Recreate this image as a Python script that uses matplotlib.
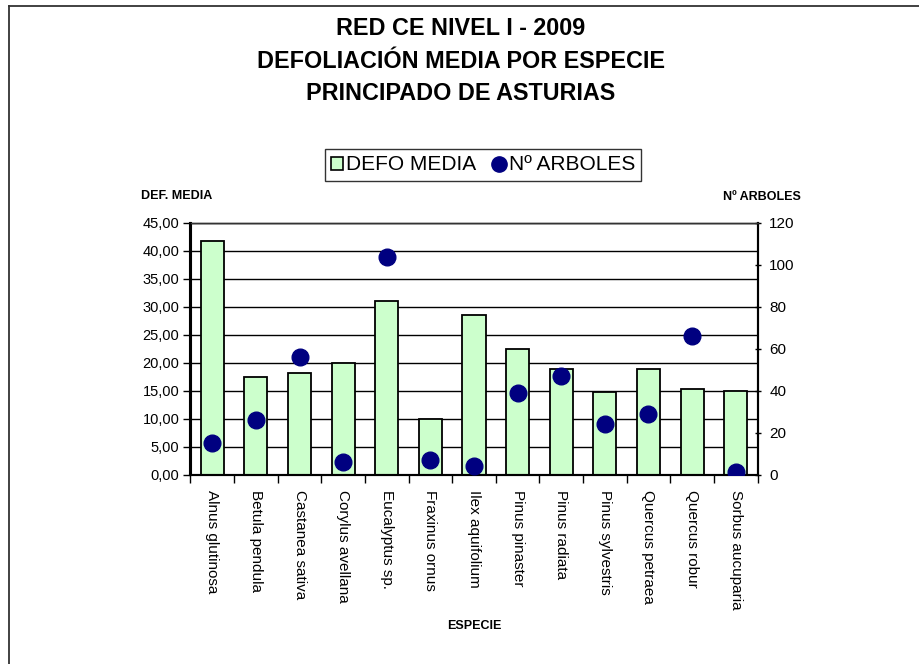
import matplotlib
matplotlib.use("Agg")
import matplotlib.pyplot as plt
import numpy as np
from matplotlib.lines import Line2D
from matplotlib.patches import Patch
from matplotlib.ticker import FuncFormatter, MultipleLocator, FixedLocator

plt.rcParams['font.family'] = ['Liberation Sans', 'DejaVu Sans']

species = ["Alnus glutinosa", "Betula pendula", "Castanea sativa", "Corylus avellana",
           "Eucalyptus sp.", "Fraxinus ornus", "Ilex aquifolium", "Pinus pinaster",
           "Pinus radiata", "Pinus sylvestris", "Quercus petraea", "Quercus robur",
           "Sorbus aucuparia"]
defo_media = [41.7, 17.4, 18.2, 20.0, 31.0, 10.0, 28.5, 22.4, 18.9, 14.7, 18.9, 15.3, 15.0]
n_arboles = [15, 26, 56, 6, 104, 7, 4, 39, 47, 24, 29, 66, 1]

title = "RED CE NIVEL I - 2009\nDEFOLIACIÓN MEDIA POR ESPECIE\nPRINCIPADO DE ASTURIAS"

fig = plt.figure(figsize=(9.2, 6.64), dpi=100)
W, H = 920, 664
ax = fig.add_axes([190.5 / W, 1 - 474.5 / H, (757.5 - 190.5) / W, (474.5 - 223) / H])
ax2 = ax.twinx()

x = np.arange(len(species))
ax.set_axisbelow(True)
ax.bar(x, defo_media, width=0.53, color="#CCFFCC", edgecolor="black", linewidth=1.3, zorder=2)
ax.set_xlim(-0.5, len(species) - 0.5)
ax.set_ylim(0, 45)
ax.yaxis.set_major_locator(MultipleLocator(5))
ax.yaxis.set_major_formatter(FuncFormatter(lambda v, p: f"{v:.2f}".replace(".", ",")))
ax.grid(axis="y", color="black", linewidth=1.0, zorder=0)
ax.set_xticks(x)
ax.set_xticklabels(species, rotation=270, fontsize=11)
ax.xaxis.set_minor_locator(FixedLocator(np.arange(-0.5, len(species), 1.0)))
ax.tick_params(axis="x", which="major", length=0, pad=11)
ax.tick_params(axis="x", which="minor", length=6, width=1.0, direction="out")
ax.tick_params(axis="y", length=5, width=1.0, direction="out", labelsize=10.5, pad=3)

ax2.plot(x, n_arboles, linestyle="none", marker="o", markersize=12,
         color="#000080", zorder=3)
ax2.set_ylim(0, 120)
ax2.yaxis.set_major_locator(MultipleLocator(20))
ax2.tick_params(axis="y", length=5, width=1.0, direction="inout", labelsize=11, pad=6)

for a in (ax, ax2):
    for s in ("left", "right", "bottom"):
        a.spines[s].set_linewidth(1.5)
        a.spines[s].set_color("black")
    a.spines["top"].set_linewidth(1.0)
    a.spines["top"].set_color("#333333")
ax2.set_zorder(ax.get_zorder() + 1)
ax2.patch.set_visible(False)

fig.text(461 / W, 1 - 61 / H, title, ha="center", va="center", fontsize=16.8,
         fontweight="bold", linespacing=1.52)
fig.text(177 / W, 1 - 196 / H, "DEF. MEDIA", ha="center", va="center", fontsize=9,
         fontweight="bold")
fig.text(762 / W, 1 - 197 / H, "Nº ARBOLES", ha="center", va="center", fontsize=9,
         fontweight="bold")
fig.text(474 / W, 1 - 626 / H, "ESPECIE", ha="center", va="center", fontsize=9,
         fontweight="bold")

handles = [Patch(facecolor="#CCFFCC", edgecolor="black", linewidth=1.2),
           Line2D([], [], linestyle="none", marker="o", markersize=11, color="#000080")]
leg = fig.legend(handles, ["DEFO MEDIA", "Nº ARBOLES"], loc="center",
                 bbox_to_anchor=(483 / W, 1 - 165 / H), ncol=2, fontsize=15,
                 frameon=True, fancybox=False, edgecolor="black", handlelength=0.6,
                 handleheight=0.6, handletextpad=0.15, columnspacing=0.8,
                 borderpad=0.3, borderaxespad=0)
leg.get_frame().set_linewidth(1.0)

fig.add_artist(Line2D([9 / W, 9 / W], [0, 1 - 6 / H], color="#333333", linewidth=1.3,
                      transform=fig.transFigure))
fig.add_artist(Line2D([9 / W, 1], [1 - 6 / H, 1 - 6 / H], color="#333333", linewidth=1.3,
                      transform=fig.transFigure))

fig.savefig("out.png", dpi=100, facecolor="white")
